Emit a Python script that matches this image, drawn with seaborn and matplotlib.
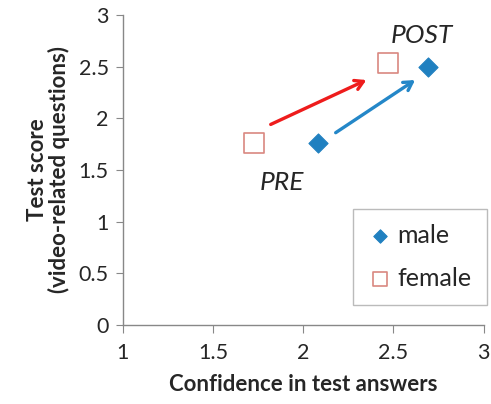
import numpy as np
import pandas as pd
import matplotlib.pyplot as plt
import seaborn as sns

# data
groups = ["male", "male", "female", "female"]
stages = ["PRE", "POST", "PRE", "POST"]
confidence = [2.08, 2.69, 1.73, 2.47]
score = [1.76, 2.50, 1.76, 2.53]

# arrows (start -> end) in data units
arrow_colors = ["#ee1c1c", "#2487c8"]
arrow_start_x = [1.82, 2.18]
arrow_start_y = [1.94, 1.86]
arrow_end_x = [2.35, 2.62]
arrow_end_y = [2.37, 2.37]

x_ticks = [1, 1.5, 2, 2.5, 3]
y_ticks = [0, 0.5, 1, 1.5, 2, 2.5, 3]

df = pd.DataFrame({"group": groups, "stage": stages, "x": confidence, "y": score})

sns.set_style("white")
plt.rcParams["font.family"] = ["Lato", "DejaVu Sans"]

fig = plt.figure(figsize=(4.91, 4.04), dpi=100)
ax = fig.add_axes([0.250, 0.196, 0.735, 0.767])

male = df[df.group == "male"]
female = df[df.group == "female"]
sns.scatterplot(data=male, x="x", y="y", marker="D", s=95, color="#2080c0",
                edgecolor="#2080c0", label="male", ax=ax, zorder=3)
sns.scatterplot(data=female, x="x", y="y", marker="s", s=190, facecolor="white",
                edgecolor="#d98880", linewidth=1.2, label="female", ax=ax, zorder=3)

for c, x0, y0, x1, y1 in zip(arrow_colors, arrow_start_x, arrow_start_y, arrow_end_x, arrow_end_y):
    ax.annotate("", xy=(x1, y1), xytext=(x0, y0),
                arrowprops=dict(arrowstyle="->,head_length=0.6,head_width=0.35",
                                color=c, lw=2.4, shrinkA=0, shrinkB=0))

ax.text(1.88, 1.38, "PRE", fontsize=19, style="italic", ha="center", va="center")
ax.text(2.66, 2.80, "POST", fontsize=19, style="italic", ha="center", va="center")

ax.set_xlim(1, 3)
ax.set_ylim(0, 3)
ax.set_xticks(x_ticks)
ax.set_yticks(y_ticks)
ax.set_xticklabels([f"{v:g}" for v in x_ticks], fontsize=15.5)
ax.set_yticklabels([f"{v:g}" for v in y_ticks], fontsize=15.5)
ax.tick_params(axis="y", length=5, color="#888888", direction="out", left=True, pad=5)
ax.tick_params(axis="x", length=6, color="#888888", direction="out", bottom=True, pad=7)
for s in ["top", "right"]:
    ax.spines[s].set_visible(False)
for s in ["left", "bottom"]:
    ax.spines[s].set_color("#888888")
    ax.spines[s].set_linewidth(1)

ax.set_xlabel("Confidence in test answers", fontsize=16, fontweight="bold", labelpad=8)
ax.set_ylabel("Test score\n(video-related questions)", fontsize=16, fontweight="bold",
              labelpad=6, linespacing=1.0)

leg = ax.legend(loc="lower right", bbox_to_anchor=(1.043, 0.025), fontsize=18,
                frameon=True, fancybox=False, edgecolor="#aaaaaa", markerscale=0.7,
                handletextpad=0.2, borderpad=0.6, labelspacing=0.8, handlelength=1.0)
leg.get_frame().set_linewidth(1)

fig.savefig("out.png", dpi=100)
